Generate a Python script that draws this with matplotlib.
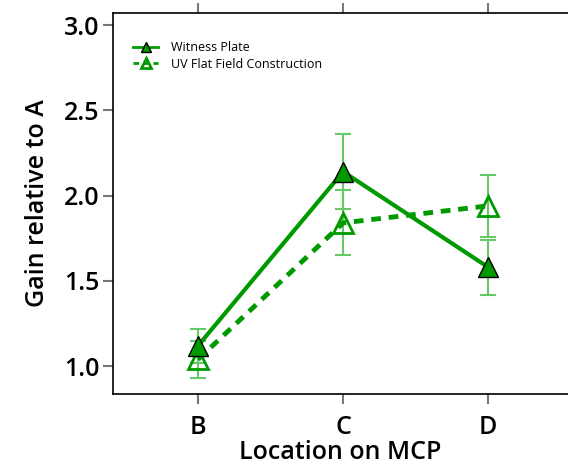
import matplotlib.pyplot as plt
import numpy as np

locations = ['B', 'C', 'D']
witness = [1.12, 2.14, 1.58]
witness_err = [0.10, 0.22, 0.16]
uv_flat = [1.04, 1.84, 1.94]
uv_err = [0.11, 0.19, 0.18]

green = '#009a00'
err_green = '#66c866'

plt.rcParams['font.family'] = ['Open Sans', 'DejaVu Sans']

fig = plt.figure(figsize=(5.68, 4.67), dpi=100)
ax = fig.add_axes([0.199, 0.156, 0.801, 0.816])

x = np.arange(1, len(locations) + 1)

ax.errorbar(x, witness, yerr=witness_err, fmt='none', ecolor=err_green,
            elinewidth=1.5, capsize=6, capthick=1.5, zorder=2)
ax.errorbar(x, uv_flat, yerr=uv_err, fmt='none', ecolor=err_green,
            elinewidth=1.5, capsize=6, capthick=1.5, zorder=2)

ax.plot(x, witness, '-', color=green, lw=3, marker='^', ms=15,
        markerfacecolor=green, markeredgecolor='black', markeredgewidth=1,
        label='Witness Plate', zorder=4)
ax.plot(x, uv_flat, '--', color=green, lw=3.5, dashes=(2, 1.6), marker='^', ms=15,
        markerfacecolor='none', markeredgecolor=green, markeredgewidth=2,
        label='UV Flat Field Construction', zorder=3)

ax.set_xlim(0.414, 3.55)
ax.set_ylim(0.836, 3.07)
ax.set_xticks(x)
ax.set_xticklabels(locations)
ax.set_yticks([1.0, 1.5, 2.0, 2.5, 3.0])
ax.set_yticklabels(['1.0', '1.5', '2.0', '2.5', '3.0'])

ax.spines['right'].set_visible(False)
for s in ['left', 'bottom', 'top']:
    ax.spines[s].set_linewidth(1.2)
ax.tick_params(axis='x', top=True, direction='out', length=7, width=1.5,
               color='#777777', labelsize=18, pad=8)
ax.tick_params(axis='y', direction='out', length=7, width=1.5,
               color='#777777', labelsize=18, pad=3)
for lbl in ax.get_xticklabels() + ax.get_yticklabels():
    lbl.set_fontweight('semibold')

ax.set_xlabel('Location on MCP', fontsize=18, fontweight='semibold', labelpad=0)
ax.set_ylabel('Gain relative to A', fontsize=18, fontweight='semibold', labelpad=10)

leg = ax.legend(loc='upper left', bbox_to_anchor=(0.02, 0.955), frameon=False,
                fontsize=9, handlelength=2.0, handletextpad=1.0, labelspacing=0.25,
                markerscale=0.5)
for h in leg.get_lines():
    h.set_linewidth(2)

fig.savefig('out.png', dpi=100)
